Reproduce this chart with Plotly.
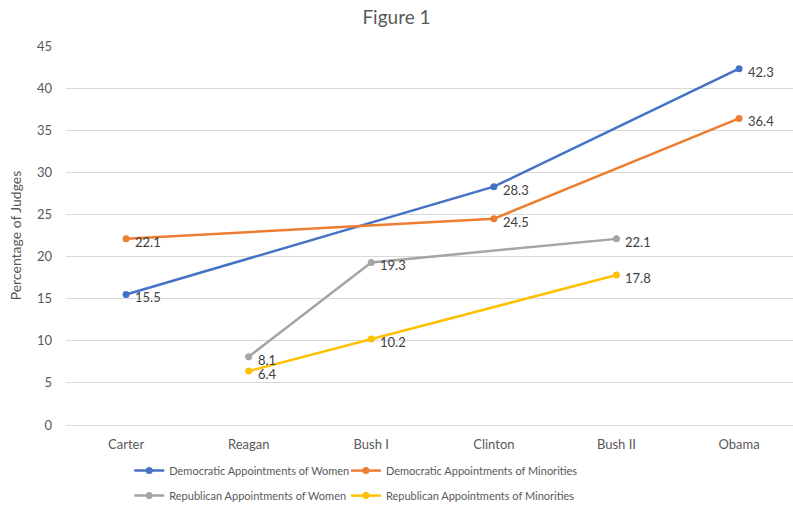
import plotly.graph_objects as go

presidents = ["Carter", "Reagan", "Bush I", "Clinton", "Bush II", "Obama"]

dem_women = [15.5, None, None, 28.3, None, 42.3]
dem_minorities = [22.1, None, None, 24.5, None, 36.4]
rep_women = [None, 8.1, 19.3, None, 22.1, None]
rep_minorities = [None, 6.4, 10.2, None, 17.8, None]

series_names = [
    "Democratic Appointments of Women",
    "Democratic Appointments of Minorities",
    "Republican Appointments of Women",
    "Republican Appointments of Minorities",
]
series_values = [dem_women, dem_minorities, rep_women, rep_minorities]
series_colors = ["#4472C4", "#ED7D31", "#A5A5A5", "#FFC000"]
# one legend box per series, laid out as a 2 x 2 grid below the plot
series_legends = ["legend", "legend2", "legend3", "legend4"]
legend_cols = [0.087, 0.385, 0.087, 0.385]
legend_rows = [-0.082, -0.082, -0.148, -0.148]

FONT = "Lato, Calibri, Arial, sans-serif"
TEXT_GREY = "#595959"

fig = go.Figure()
annotations = []
for name, vals, color, leg in zip(series_names, series_values, series_colors, series_legends):
    xs = [p for p, v in zip(presidents, vals) if v is not None]
    ys = [v for v in vals if v is not None]
    fig.add_trace(go.Scatter(
        x=xs, y=ys, name=name, mode="lines+markers", legend=leg, showlegend=True,
        line=dict(color=color, width=2.5),
        marker=dict(color=color, size=7),
    ))
    for x, y in zip(xs, ys):
        annotations.append(dict(
            x=x, y=y, text=f"{y:.1f}", showarrow=False,
            xanchor="left", yanchor="middle", xshift=7, yshift=-3,
            font=dict(family=FONT, size=13, color="#404040"),
        ))

legend_layout = {}
for leg, lx, ly in zip(series_legends, legend_cols, legend_rows):
    legend_layout[leg] = dict(
        orientation="h", x=lx, xanchor="left", y=ly, yanchor="top",
        itemwidth=30, bgcolor="rgba(0,0,0,0)",
        font=dict(family=FONT, size=11, color=TEXT_GREY),
    )

fig.update_layout(
    width=793, height=506,
    showlegend=True,
    margin=dict(l=66, r=0, t=46, b=81, autoexpand=False),
    paper_bgcolor="white", plot_bgcolor="white",
    font=dict(family=FONT, color=TEXT_GREY),
    title=dict(text="Figure 1", x=0.5, xanchor="center", y=0.965, yanchor="middle",
               font=dict(family=FONT, size=19, color=TEXT_GREY)),
    xaxis=dict(
        type="category", categoryorder="array", categoryarray=presidents,
        range=[-0.49, 5.44], showgrid=False, zeroline=False,
        showline=False, ticks="", ticklabelstandoff=10,
        tickfont=dict(size=13, color=TEXT_GREY),
    ),
    yaxis=dict(
        range=[0, 45], dtick=5, showgrid=True, gridcolor="#D9D9D9", gridwidth=1,
        zeroline=True, zerolinecolor="#D9D9D9", zerolinewidth=1,
        tickfont=dict(size=13, color=TEXT_GREY), ticks="", ticklabelstandoff=13,
        title=dict(text="Percentage of Judges", font=dict(size=14, color=TEXT_GREY), standoff=12),
    ),
    annotations=annotations,
    **legend_layout,
)

fig.write_html("out.html")
